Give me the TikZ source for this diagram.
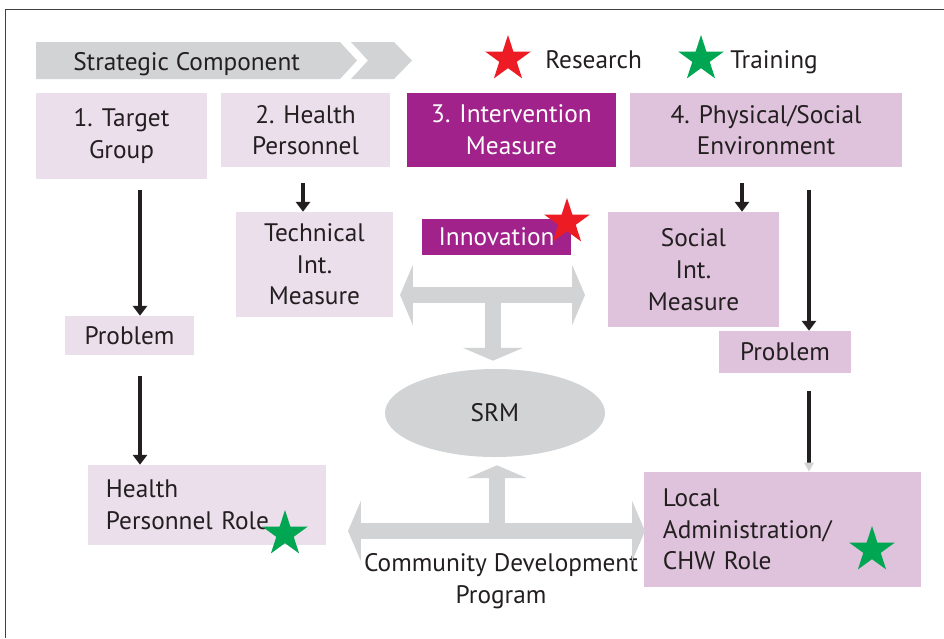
\documentclass[tikz,border=0pt]{standalone}
\usepackage{fontspec}
\setmainfont{PT Sans}
\usetikzlibrary{arrows.meta,shapes.geometric}

\definecolor{ink}{HTML}{231F20}
\definecolor{chevgray}{HTML}{D1D3D4}
\definecolor{lightpk}{HTML}{EBDFEC}
\definecolor{midpk}{HTML}{DFC2DC}
\definecolor{magent}{HTML}{A1228B}
\definecolor{starred}{HTML}{ED1C24}
\definecolor{stargreen}{HTML}{00A651}
\definecolor{framegray}{HTML}{404041}

\newcommand\dfont{\fontsize{18}{22.5}\selectfont}

\tikzset{
  boxsize/.style 2 args={minimum width=#1*0.025cm,minimum height=#2*0.025cm},
  lbox/.style={fill=lightpk,text=ink,align=center,inner sep=0pt},
  mbox/.style={fill=midpk,text=ink,align=center,inner sep=0pt},
  dbox/.style={fill=magent,text=white,align=center,inner sep=0pt},
  lbl/.style={inner sep=0pt,text=ink},
  rstar/.style={star,star points=5,star point ratio=2.618,fill=starred,
    minimum size=48*0.025cm,inner sep=0pt},
  gstar/.style={rstar,fill=stargreen},
  blkhead/.tip={Triangle[length=7pt,width=10pt]},
  bighead/.tip={Triangle[length=9.2pt,width=42.7pt]},
  blkarr/.style={draw=ink,line width=2.8pt,-blkhead},
  bigarr/.style={draw=chevgray,line width=11.4pt},
  frame/.style={draw=framegray,line width=1.2pt}
}

\begin{document}
\begin{tikzpicture}[x=0.025cm,y=-0.025cm,font=\dfont,text=ink]
    \useasboundingbox (0,0) rectangle (944,638);
    \draw[frame] (5.5,638) -- (5.5,9.5) -- (944,9.5);

    % strategic component bar
    \fill[chevgray] (36,42) -- (340,42) -- (357,60.5) -- (340,79) -- (36,79) -- cycle;
    \fill[chevgray] (351,42) -- (394,42) -- (412,60.5) -- (394,79) -- (351,79) -- (368,60.5) -- cycle;
    \node[lbl,anchor=base west] (strat) at (73,70) {Strategic Component};

    % legend
    \node[rstar] (rleg) at (508,59) {};
    \node[lbl,anchor=base west] (research) at (545,68) {Research};
    \node[gstar] (gleg) at (701,59) {};
    \node[lbl,anchor=base west] (training) at (730,68) {Training};

    % components
    \node[lbox,boxsize={171}{86}] (tg) at (121.5,136) {1. Target\\Group};
    \node[lbox,boxsize={169}{74}] (hp) at (305.5,130) {2. Health\\Personnel};
    \node[dbox,boxsize={209}{74}] (im) at (511.5,130) {3. Intervention\\Measure};
    \node[mbox,boxsize={272}{74}] (pse) at (766,130) {4. Physical/Social\\Environment};

    % measures
    \node[lbox,boxsize={157}{105}] (tim) at (314.5,264.5) {Technical\\Int.\\Measure};
    \node[dbox,boxsize={149}{36}] (inno) at (496.5,237) {Innovation};
    \node[rstar] (istar) at (567,222) {};
    \node[mbox,boxsize={171}{115}] (sim) at (693.5,269.5) {Social\\Int.\\Measure};

    \node[lbox,boxsize={129}{39}] (prob1) at (129.5,335.5) {Problem};
    \node[mbox,boxsize={132}{42}] (prob2) at (785,352) {Problem};

    \node[ellipse,fill=chevgray,boxsize={220}{88},inner sep=0pt] (srm) at (495,413) {SRM};

    % roles
    \node[lbox,align=left,text width=5.05cm,inner xsep=0.45cm,minimum height=2cm] (hpr) at (207,505) {Health\\Personnel Role};
    \node[gstar] (hstar) at (285,534) {};
    \node[mbox,align=left,text width=5.975cm,inner xsep=0.475cm,minimum height=2.875cm] (lac) at (782.5,529.5) {Local\\Administration/\\CHW Role};
    \node[gstar] (lstar) at (872,550) {};

    \node[lbl,align=center] (cdp) at (501,581) {Community Development\\Program};

    % gray arrows
    \coordinate (tl) at (400,295);
    \coordinate (tr) at (585,295);
    \coordinate (tm) at (493,295);
    \draw[bigarr,bighead-bighead] (tl) -- (tr);
    \draw[bigarr,-bighead,shorten >=5.7pt] (tm) -- (tm |- srm.north);

    \coordinate (bl) at (348,531);
    \coordinate (br) at (645,531);
    \coordinate (bm) at (497,531);
    \draw[bigarr,bighead-bighead] (bl) -- (br);
    \draw[bigarr,-bighead,shorten >=5.7pt] (bm) -- (bm |- srm.south);

    % black arrows
    \path (tg.south) ++(18.5,11) coordinate (a1);
    \draw[blkarr] (a1) -- (a1 |- prob1.north);
    \path (prob1.south) ++(10.5,21) coordinate (a2);
    \draw[blkarr] (a2) -- (a2 |- hpr.north);
    \path (hp.south) ++(-2.5,16) coordinate (a3);
    \draw[blkarr] (a3) -- (a3 |- tim.north);
    \path (pse.south) ++(-24,16) coordinate (a4);
    \draw[blkarr] (a4) -- (a4 |- sim.north);
    \path (pse.south) ++(43,23) coordinate (a5);
    \draw[blkarr] (a5) -- (a5 |- prob2.north);
    \path (prob2.south) ++(24,18) coordinate (a6);
    \draw[blkarr,-{Triangle[length=6.4pt,width=6.5pt,color=chevgray]}] (a6) -- (a6 |- lac.north);
\end{tikzpicture}
\end{document}
